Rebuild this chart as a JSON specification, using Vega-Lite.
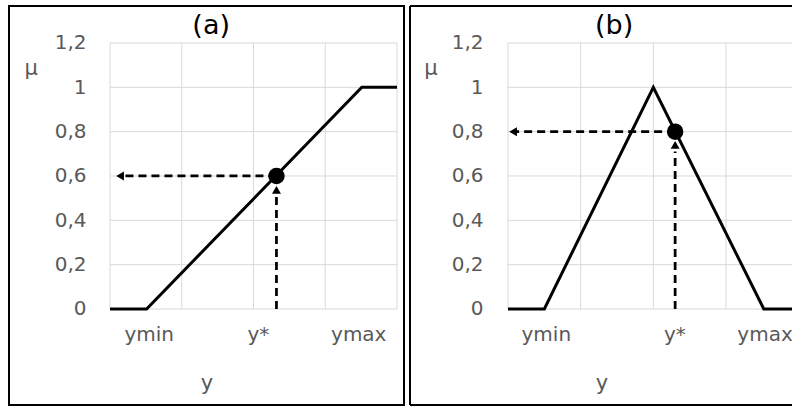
{
  "$schema": "https://vega.github.io/schema/vega-lite/v6.json",
  "padding": {"left": 8, "top": 5, "right": 0, "bottom": 0},
  "autosize": {"type": "pad"},
  "spacing": 6,
  "bounds": "flush",
  "config": {
    "view": {"stroke": "black", "strokeWidth": 2},
    "text": {"font": "DejaVu Sans"},
    "axis": {"labelFont": "DejaVu Sans", "titleFont": "DejaVu Sans", "labelColor": "#595959", "titleColor": "#595959", "labelFontSize": 20, "titleFontSize": 21, "titleFontWeight": "normal", "domain": false, "ticks": false, "grid": false, "labelFlush": false, "labelOverlap": false}
  },
  "hconcat": [
    {
      "width": 395,
      "height": 399,
      "layer": [
        {
          "data": {"values": [{"g": 0}, {"g": 1}, {"g": 2}, {"g": 3}, {"g": 4}]},
          "mark": {"type": "rule", "color": "#d9d9d9", "strokeWidth": 1, "clip": true},
          "encoding": {
            "x": {"field": "g", "type": "quantitative", "scale": {"domain": [-1.4077, 4.0976], "nice": false, "zero": false},
              "axis": {"values": [0.54, 2.06, 3.46], "labelExpr": "datum.value < 1 ? 'ymin' : datum.value < 3 ? 'y*' : 'ymax'", "offset": -96, "labelPadding": 25, "labelBaseline": "middle", "title": "y", "titlePadding": 28}},
            "y": {"datum": 0, "type": "quantitative", "scale": {"domain": [-0.4331, 1.3669], "nice": false, "zero": false},
              "axis": {"values": [0, 0.2, 0.4, 0.6, 0.8, 1, 1.2], "labelExpr": "replace(format(datum.value, '.1~f'), '.', ',')", "offset": -101, "labelPadding": 24, "title": null}},
            "y2": {"datum": 1.2}
          }
        },
        {
          "data": {"values": [{"g": 0}, {"g": 0.2}, {"g": 0.4}, {"g": 0.6}, {"g": 0.8}, {"g": 1}, {"g": 1.2}]},
          "mark": {"type": "rule", "color": "#d9d9d9", "strokeWidth": 1, "clip": true},
          "encoding": {
            "y": {"field": "g", "type": "quantitative"},
            "x": {"datum": 0, "type": "quantitative"},
            "x2": {"datum": 4}
          }
        },
        {
          "data": {"values": [{"x": 0, "y": 0}, {"x": 0.51, "y": 0}, {"x": 3.51, "y": 1}, {"x": 4, "y": 1}]},
          "mark": {"type": "line", "color": "black", "strokeWidth": 3, "clip": true},
          "encoding": {"x": {"field": "x", "type": "quantitative"}, "y": {"field": "y", "type": "quantitative"}}
        },
        {
          "data": {"values": [{"x": 2.32, "y": 0.6, "x2": 0.17, "y2": 0.6}, {"x": 2.32, "y": 0, "x2": 2.32, "y2": 0.52}]},
          "mark": {"type": "rule", "color": "black", "strokeWidth": 2.75, "strokeDash": [8, 5]},
          "encoding": {"x": {"field": "x", "type": "quantitative"}, "y": {"field": "y", "type": "quantitative"}, "x2": {"field": "x2"}, "y2": {"field": "y2"}}
        },
        {
          "data": {"values": [{"x": 0.14, "y": 0.6}]},
          "mark": {"type": "point", "shape": "triangle-left", "filled": true, "color": "black", "size": 80, "opacity": 1},
          "encoding": {"x": {"field": "x", "type": "quantitative"}, "y": {"field": "y", "type": "quantitative"}}
        },
        {
          "data": {"values": [{"x": 2.32, "y": 0.537}]},
          "mark": {"type": "point", "shape": "triangle-up", "filled": true, "color": "black", "size": 80, "opacity": 1},
          "encoding": {"x": {"field": "x", "type": "quantitative"}, "y": {"field": "y", "type": "quantitative"}}
        },
        {
          "data": {"values": [{"x": 2.32, "y": 0.6}]},
          "mark": {"type": "point", "shape": "circle", "filled": true, "color": "black", "size": 270, "opacity": 1},
          "encoding": {"x": {"field": "x", "type": "quantitative"}, "y": {"field": "y", "type": "quantitative"}}
        },
        {
          "data": {"values": [{"x": 1.41, "y": 1.277, "t": "(a)"}]},
          "mark": {"type": "text", "fontSize": 27, "color": "black", "baseline": "middle"},
          "encoding": {"x": {"field": "x", "type": "quantitative"}, "y": {"field": "y", "type": "quantitative"}, "text": {"field": "t"}}
        },
        {
          "data": {"values": [{"x": -1.1, "y": 1.083, "t": "μ"}]},
          "mark": {"type": "text", "fontSize": 21, "color": "#595959", "baseline": "middle"},
          "encoding": {"x": {"field": "x", "type": "quantitative"}, "y": {"field": "y", "type": "quantitative"}, "text": {"field": "t"}}
        }
      ]
    },
    {
      "width": 383,
      "height": 399,
      "view": {"stroke": null},
      "layer": [
        {
          "data": {"values": [{"g": 0}, {"g": 1}, {"g": 2}, {"g": 3}, {"g": 4}]},
          "mark": {"type": "rule", "color": "#d9d9d9", "strokeWidth": 1, "clip": true},
          "encoding": {
            "x": {"field": "g", "type": "quantitative", "scale": {"domain": [-1.3486, 3.922], "nice": false, "zero": false},
              "axis": {"values": [0.52, 2.29, 3.53], "labelExpr": "datum.value < 1 ? 'ymin' : datum.value < 3 ? 'y*' : 'ymax'", "offset": -96, "labelPadding": 25, "labelBaseline": "middle", "title": "y", "titlePadding": 28}},
            "y": {"datum": 0, "type": "quantitative", "scale": {"domain": [-0.4331, 1.3669], "nice": false, "zero": false},
              "axis": {"values": [0, 0.2, 0.4, 0.6, 0.8, 1, 1.2], "labelExpr": "replace(format(datum.value, '.1~f'), '.', ',')", "offset": -98, "labelPadding": 25, "title": null}},
            "y2": {"datum": 1.2}
          }
        },
        {
          "data": {"values": [{"g": 0}, {"g": 0.2}, {"g": 0.4}, {"g": 0.6}, {"g": 0.8}, {"g": 1}, {"g": 1.2}]},
          "mark": {"type": "rule", "color": "#d9d9d9", "strokeWidth": 1, "clip": true},
          "encoding": {
            "y": {"field": "g", "type": "quantitative"},
            "x": {"datum": 0, "type": "quantitative"},
            "x2": {"datum": 4}
          }
        },
        {
          "data": {"values": [{"x": 0, "y": 0}, {"x": 0.5, "y": 0}, {"x": 2, "y": 1}, {"x": 3.52, "y": 0}, {"x": 4, "y": 0}]},
          "mark": {"type": "line", "color": "black", "strokeWidth": 3, "clip": true},
          "encoding": {"x": {"field": "x", "type": "quantitative"}, "y": {"field": "y", "type": "quantitative"}}
        },
        {
          "data": {"values": [{"x": 2.3, "y": 0.8, "x2": 0.1, "y2": 0.8}, {"x": 2.3, "y": 0, "x2": 2.3, "y2": 0.71}]},
          "mark": {"type": "rule", "color": "black", "strokeWidth": 2.75, "strokeDash": [8, 5]},
          "encoding": {"x": {"field": "x", "type": "quantitative"}, "y": {"field": "y", "type": "quantitative"}, "x2": {"field": "x2"}, "y2": {"field": "y2"}}
        },
        {
          "data": {"values": [{"x": 0.07, "y": 0.8}]},
          "mark": {"type": "point", "shape": "triangle-left", "filled": true, "color": "black", "size": 80, "opacity": 1},
          "encoding": {"x": {"field": "x", "type": "quantitative"}, "y": {"field": "y", "type": "quantitative"}}
        },
        {
          "data": {"values": [{"x": 2.3, "y": 0.74}]},
          "mark": {"type": "point", "shape": "triangle-up", "filled": true, "color": "black", "size": 80, "opacity": 1},
          "encoding": {"x": {"field": "x", "type": "quantitative"}, "y": {"field": "y", "type": "quantitative"}}
        },
        {
          "data": {"values": [{"x": 2.3, "y": 0.8}]},
          "mark": {"type": "point", "shape": "circle", "filled": true, "color": "black", "size": 270, "opacity": 1},
          "encoding": {"x": {"field": "x", "type": "quantitative"}, "y": {"field": "y", "type": "quantitative"}}
        },
        {
          "data": {"values": [{"x": 1.46, "y": 1.277, "t": "(b)"}]},
          "mark": {"type": "text", "fontSize": 27, "color": "black", "baseline": "middle"},
          "encoding": {"x": {"field": "x", "type": "quantitative"}, "y": {"field": "y", "type": "quantitative"}, "text": {"field": "t"}}
        },
        {
          "data": {"values": [{"x": -1.06, "y": 1.083, "t": "μ"}]},
          "mark": {"type": "text", "fontSize": 21, "color": "#595959", "baseline": "middle"},
          "encoding": {"x": {"field": "x", "type": "quantitative"}, "y": {"field": "y", "type": "quantitative"}, "text": {"field": "t"}}
        },
        {
          "data": {"values": [
            {"x": -1.3486, "y": -0.4331, "x2": -1.3486, "y2": 1.3669},
            {"x": -1.3486, "y": 1.3669, "x2": 3.922, "y2": 1.3669},
            {"x": -1.3486, "y": -0.4331, "x2": 3.922, "y2": -0.4331}
          ]},
          "mark": {"type": "rule", "color": "black", "strokeWidth": 2},
          "encoding": {"x": {"field": "x", "type": "quantitative"}, "y": {"field": "y", "type": "quantitative"}, "x2": {"field": "x2"}, "y2": {"field": "y2"}}
        }
      ]
    }
  ]
}
